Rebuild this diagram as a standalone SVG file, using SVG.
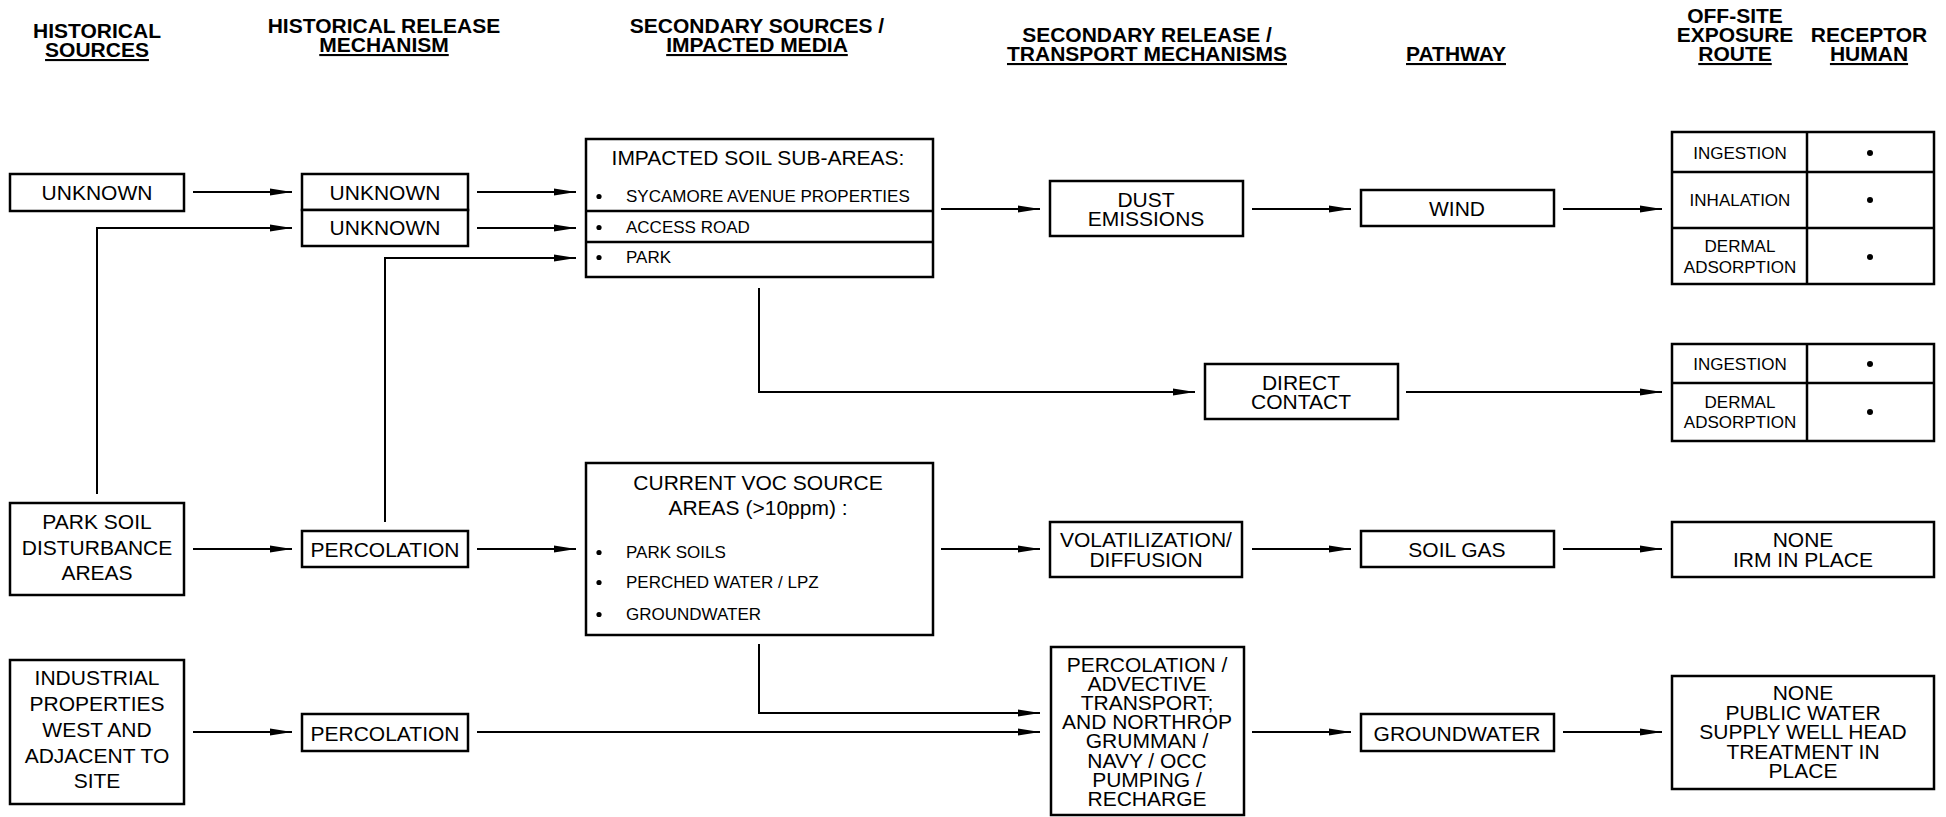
<svg xmlns="http://www.w3.org/2000/svg" width="1946" height="817" viewBox="0 0 1946 817">
<style>
.box{fill:#fff;stroke:#000;stroke-width:2.5}
.ln{fill:none;stroke:#000;stroke-width:2.5}
text{font-family:"Liberation Sans",Arial,sans-serif;font-size:21px;text-anchor:middle;fill:#000}
.h{font-weight:bold}
.u{text-decoration:underline}
.s{font-size:17px}
.l{text-anchor:start}
.c{fill:none;stroke:#000;stroke-width:2}
.dot{fill:#000}
</style>
<defs>
<marker id="ah" markerUnits="userSpaceOnUse" markerWidth="24" markerHeight="10" refX="22" refY="4" orient="auto">
<path d="M0,0.5 L22,4 L0,7.5 Z" fill="#000"/>
</marker>
</defs>
<rect width="1946" height="817" fill="#fff"/>

<g id="headers">
<text class="h" x="97" y="38">HISTORICAL</text>
<text class="h u" x="97" y="57">SOURCES</text>
<text class="h" x="384" y="33">HISTORICAL RELEASE</text>
<text class="h u" x="384" y="52">MECHANISM</text>
<text class="h" x="757" y="33">SECONDARY SOURCES /</text>
<text class="h u" x="757" y="52">IMPACTED MEDIA</text>
<text class="h" x="1147" y="42">SECONDARY RELEASE /</text>
<text class="h u" x="1147" y="61">TRANSPORT MECHANISMS</text>
<text class="h u" x="1456" y="61">PATHWAY</text>
<text class="h" x="1735" y="23">OFF-SITE</text>
<text class="h" x="1735" y="42">EXPOSURE</text>
<text class="h u" x="1735" y="61">ROUTE</text>
<text class="h" x="1869" y="42">RECEPTOR</text>
<text class="h u" x="1869" y="61">HUMAN</text>
</g>

<g id="connectors" class="c">
<line x1="193" y1="192" x2="292" y2="192" marker-end="url(#ah)"/>
<polyline points="97,494 97,228 292,228" marker-end="url(#ah)"/>
<line x1="477" y1="192" x2="576" y2="192" marker-end="url(#ah)"/>
<line x1="477" y1="228" x2="576" y2="228" marker-end="url(#ah)"/>
<polyline points="385,522 385,258 576,258" marker-end="url(#ah)"/>
<line x1="193" y1="549" x2="292" y2="549" marker-end="url(#ah)"/>
<line x1="477" y1="549" x2="576" y2="549" marker-end="url(#ah)"/>
<line x1="193" y1="732" x2="292" y2="732" marker-end="url(#ah)"/>
<line x1="477" y1="732" x2="1040" y2="732" marker-end="url(#ah)"/>
<polyline points="759,644 759,713 1040,713" marker-end="url(#ah)"/>
<polyline points="759,288 759,392 1195,392" marker-end="url(#ah)"/>
<line x1="941" y1="209" x2="1040" y2="209" marker-end="url(#ah)"/>
<line x1="941" y1="549" x2="1040" y2="549" marker-end="url(#ah)"/>
<line x1="1252" y1="209" x2="1351" y2="209" marker-end="url(#ah)"/>
<line x1="1563" y1="209" x2="1662" y2="209" marker-end="url(#ah)"/>
<line x1="1406" y1="392" x2="1662" y2="392" marker-end="url(#ah)"/>
<line x1="1252" y1="549" x2="1351" y2="549" marker-end="url(#ah)"/>
<line x1="1563" y1="549" x2="1662" y2="549" marker-end="url(#ah)"/>
<line x1="1252" y1="732" x2="1351" y2="732" marker-end="url(#ah)"/>
<line x1="1563" y1="732" x2="1662" y2="732" marker-end="url(#ah)"/>
</g>

<g id="src-unknown">
<rect class="box" x="10" y="174" width="174" height="37"/>
<text x="97" y="200">UNKNOWN</text>
</g>
<g id="src-park">
<rect class="box" x="10" y="503" width="174" height="92"/>
<text x="97" y="529">PARK SOIL</text>
<text x="97" y="555">DISTURBANCE</text>
<text x="97" y="580">AREAS</text>
</g>
<g id="src-industrial">
<rect class="box" x="10" y="660" width="174" height="144"/>
<text x="97" y="685">INDUSTRIAL</text>
<text x="97" y="711">PROPERTIES</text>
<text x="97" y="737">WEST AND</text>
<text x="97" y="763">ADJACENT TO</text>
<text x="97" y="788">SITE</text>
</g>

<g id="rel-unknown1">
<rect class="box" x="302" y="174" width="166" height="36"/>
<text x="385" y="200">UNKNOWN</text>
</g>
<g id="rel-unknown2">
<rect class="box" x="302" y="210" width="166" height="36"/>
<text x="385" y="235">UNKNOWN</text>
</g>
<g id="rel-perc1">
<rect class="box" x="302" y="531" width="166" height="36"/>
<text x="385" y="557">PERCOLATION</text>
</g>
<g id="rel-perc2">
<rect class="box" x="302" y="714" width="166" height="37"/>
<text x="385" y="741">PERCOLATION</text>
</g>

<g id="impacted-soil">
<rect class="box" x="586" y="139" width="347" height="138"/>
<line class="ln" x1="586" y1="211" x2="933" y2="211"/>
<line class="ln" x1="586" y1="242" x2="933" y2="242"/>
<text x="758" y="165">IMPACTED SOIL SUB-AREAS:</text>
<circle class="dot" cx="599" cy="196.5" r="2.6"/>
<text class="s l" x="626" y="202">SYCAMORE AVENUE PROPERTIES</text>
<circle class="dot" cx="599" cy="227.5" r="2.6"/>
<text class="s l" x="626" y="233">ACCESS ROAD</text>
<circle class="dot" cx="599" cy="257.5" r="2.6"/>
<text class="s l" x="626" y="263">PARK</text>
</g>

<g id="current-voc">
<rect class="box" x="586" y="463" width="347" height="172"/>
<text x="758" y="490">CURRENT VOC SOURCE</text>
<text x="758" y="515">AREAS (&gt;10ppm) :</text>
<circle class="dot" cx="599" cy="552.5" r="2.6"/>
<text class="s l" x="626" y="558">PARK SOILS</text>
<circle class="dot" cx="599" cy="582.5" r="2.6"/>
<text class="s l" x="626" y="588">PERCHED WATER / LPZ</text>
<circle class="dot" cx="599" cy="614.5" r="2.6"/>
<text class="s l" x="626" y="620">GROUNDWATER</text>
</g>

<g id="dust">
<rect class="box" x="1050" y="181" width="193" height="55"/>
<text x="1146" y="207">DUST</text>
<text x="1146" y="226">EMISSIONS</text>
</g>
<g id="direct-contact">
<rect class="box" x="1205" y="364" width="193" height="55"/>
<text x="1301" y="390">DIRECT</text>
<text x="1301" y="409">CONTACT</text>
</g>
<g id="volatilization">
<rect class="box" x="1050" y="522" width="192" height="55"/>
<text x="1146" y="547">VOLATILIZATION/</text>
<text x="1146" y="567">DIFFUSION</text>
</g>
<g id="percolation-advective">
<rect class="box" x="1051" y="647" width="193" height="168"/>
<text x="1147" y="672">PERCOLATION /</text>
<text x="1147" y="691">ADVECTIVE</text>
<text x="1147" y="710">TRANSPORT;</text>
<text x="1147" y="729">AND NORTHROP</text>
<text x="1147" y="748">GRUMMAN /</text>
<text x="1147" y="768">NAVY / OCC</text>
<text x="1147" y="787">PUMPING /</text>
<text x="1147" y="806">RECHARGE</text>
</g>

<g id="wind">
<rect class="box" x="1361" y="190" width="193" height="36"/>
<text x="1457" y="216">WIND</text>
</g>
<g id="soil-gas">
<rect class="box" x="1361" y="531" width="193" height="36"/>
<text x="1457" y="557">SOIL GAS</text>
</g>
<g id="groundwater">
<rect class="box" x="1361" y="714" width="193" height="37"/>
<text x="1457" y="741">GROUNDWATER</text>
</g>

<g id="exposure-wind">
<rect class="box" x="1672" y="132" width="262" height="152"/>
<line class="ln" x1="1807" y1="132" x2="1807" y2="284"/>
<line class="ln" x1="1672" y1="172" x2="1934" y2="172"/>
<line class="ln" x1="1672" y1="228" x2="1934" y2="228"/>
<text class="s" x="1740" y="159">INGESTION</text>
<text class="s" x="1740" y="206">INHALATION</text>
<text class="s" x="1740" y="252">DERMAL</text>
<text class="s" x="1740" y="273">ADSORPTION</text>
<circle class="dot" cx="1870" cy="153" r="3"/>
<circle class="dot" cx="1870" cy="200" r="3"/>
<circle class="dot" cx="1870" cy="257" r="3"/>
</g>
<g id="exposure-contact">
<rect class="box" x="1672" y="344" width="262" height="97"/>
<line class="ln" x1="1807" y1="344" x2="1807" y2="441"/>
<line class="ln" x1="1672" y1="383" x2="1934" y2="383"/>
<text class="s" x="1740" y="370">INGESTION</text>
<text class="s" x="1740" y="408">DERMAL</text>
<text class="s" x="1740" y="428">ADSORPTION</text>
<circle class="dot" cx="1870" cy="364" r="3"/>
<circle class="dot" cx="1870" cy="412" r="3"/>
</g>
<g id="exposure-soilgas">
<rect class="box" x="1672" y="522" width="262" height="55"/>
<text x="1803" y="547">NONE</text>
<text x="1803" y="567">IRM IN PLACE</text>
</g>
<g id="exposure-groundwater">
<rect class="box" x="1672" y="676" width="262" height="113"/>
<text x="1803" y="700">NONE</text>
<text x="1803" y="720">PUBLIC WATER</text>
<text x="1803" y="739">SUPPLY WELL HEAD</text>
<text x="1803" y="759">TREATMENT IN</text>
<text x="1803" y="778">PLACE</text>
</g>
</svg>
